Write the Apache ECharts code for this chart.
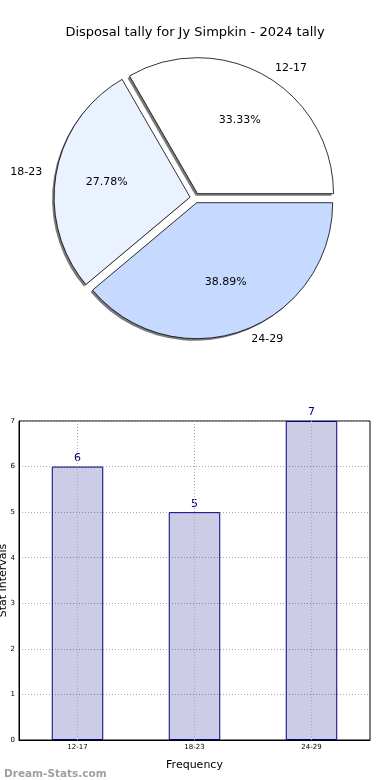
<!DOCTYPE html>
<html>
<head>
<meta charset="utf-8">
<script src="https://cdn.jsdelivr.net/npm/echarts@6/dist/echarts.min.js"></script>
<style>html,body{margin:0;padding:0;background:#fff}#c{width:390px;height:780px}</style>
</head>
<body>
<div id="c"></div>
<script>
const categories = ['12-17', '18-23', '24-29'];
const counts = [6, 5, 7];
const titleText = 'Disposal tally for Jy Simpkin - 2024 tally';
const yAxisName = 'Stat Intervals';
const xAxisName = 'Frequency';
const watermark = 'Dream-Stats.com';
const pieColors = ['#ffffff', '#ebf2ff', '#c6d9ff'];

const FONT = 'DejaVu Sans';
const R = 136;
const CX = 195, CY = 198;
const pieData = categories.map((c, i) => ({
  name: c, value: counts[i], selected: true,
  itemStyle: { color: pieColors[i] }
}));
const plainData = categories.map((c, i) => ({ name: c, value: counts[i], selected: true }));

const chart = echarts.init(document.getElementById('c'), null, { renderer: 'canvas' });
chart.setOption({
  animation: false,
  backgroundColor: '#fff',
  textStyle: { fontFamily: FONT },
  title: [
    { text: titleText, left: 'center', top: 21, textStyle: { fontFamily: FONT, fontSize: 13, fontWeight: 'normal', color: '#000' } },
    { text: watermark, left: -1, top: 764, textStyle: { fontFamily: FONT, fontSize: 10.5, fontWeight: 'bold', color: '#a0a0a0' } }
  ],
  grid: { left: 19, right: 20, top: 421, bottom: 40, show: true, borderColor: '#000', borderWidth: 1, containLabel: false, outerBoundsMode: 'none' },
  xAxis: {
    type: 'category', data: categories,
    name: xAxisName, nameLocation: 'middle', nameGap: 20, nameMoveOverlap: false,
    nameTextStyle: { fontFamily: FONT, fontSize: 11, color: '#000' },
    axisLine: { lineStyle: { color: '#000' } },
    axisTick: { show: false },
    axisLabel: { fontSize: 7, color: '#000', margin: 4, fontFamily: FONT },
    splitLine: { show: false }
  },
  yAxis: {
    type: 'value', min: 0, max: 7, interval: 1,
    name: yAxisName, nameLocation: 'middle', nameGap: 10, nameRotate: 90, nameMoveOverlap: false,
    nameTextStyle: { fontFamily: FONT, fontSize: 11, color: '#000' },
    axisLine: { show: true, lineStyle: { color: '#000' } },
    axisTick: { show: false },
    axisLabel: { fontSize: 7, color: '#000', margin: 4, fontFamily: FONT },
    splitLine: { show: true, lineStyle: { color: '#aaaaaa', type: [1, 2], width: 1 } }
  },
  series: [
    {
      type: 'bar', data: counts, barWidth: '44%',
      itemStyle: { color: 'rgba(0,0,128,0.2)', borderColor: '#000080', borderWidth: 1 },
      label: { show: true, position: 'top', distance: 3, color: '#000080', fontSize: 11, fontFamily: FONT },
      markLine: {
        silent: true, symbol: 'none', label: { show: false },
        lineStyle: { color: '#aaaaaa', type: [1, 2], width: 1 },
        data: categories.map(c => ({ xAxis: c }))
      }
    },
    {
      type: 'pie', center: [CX - 2, CY + 2], radius: [0, R],
      startAngle: 0, clockwise: false, silent: true,
      selectedMode: 'multiple', selectedOffset: 5,
      itemStyle: { color: '#7a7a7a', borderWidth: 0 },
      label: { show: false }, labelLine: { show: false },
      emphasis: { disabled: true },
      data: plainData
    },
    {
      type: 'pie', center: [CX, CY], radius: [0, R],
      startAngle: 0, clockwise: false,
      selectedMode: 'multiple', selectedOffset: 5,
      itemStyle: { borderColor: '#000', borderWidth: 0.8 },
      label: { show: true, position: 'outside', formatter: '{b}', fontSize: 11, color: '#000', fontFamily: FONT },
      labelLine: { show: false, length: 9, length2: 0 },
      emphasis: { disabled: true },
      data: pieData
    },
    {
      type: 'pie', center: [CX, CY], radius: [0.4 * R, 0.8 * R],
      startAngle: 0, clockwise: false, silent: true,
      selectedMode: 'multiple', selectedOffset: 5,
      itemStyle: { color: 'rgba(0,0,0,0)', borderWidth: 0 },
      label: { show: true, position: 'inside', formatter: p => p.percent.toFixed(2) + '%', fontSize: 11, color: '#000', fontFamily: FONT },
      labelLine: { show: false },
      emphasis: { disabled: true },
      data: plainData
    }
  ]
});
</script>
</body>
</html>
